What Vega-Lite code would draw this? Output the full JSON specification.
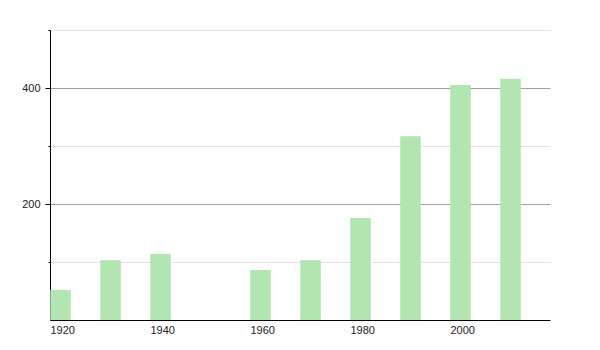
{
  "$schema": "https://vega.github.io/schema/vega-lite/v6.json",
  "width": 500,
  "height": 290,
  "autosize": {"type": "none"},
  "padding": {"left": 50, "top": 30, "right": 50, "bottom": 30},
  "background": "white",
  "config": {
    "view": {"stroke": null},
    "axis": {"labelFont": "Liberation Sans", "labelFontSize": 11, "labelColor": "#222222"}
  },
  "data": {
    "values": [
      {"year": 1920, "value": 52},
      {"year": 1930, "value": 103},
      {"year": 1940, "value": 114},
      {"year": 1960, "value": 86},
      {"year": 1970, "value": 103},
      {"year": 1980, "value": 176},
      {"year": 1990, "value": 317},
      {"year": 2000, "value": 405},
      {"year": 2010, "value": 416}
    ]
  },
  "mark": {"type": "bar", "width": 20.5, "xOffset": 10.5, "color": "#b3e5b1"},
  "encoding": {
    "x": {
      "field": "year",
      "type": "quantitative",
      "scale": {"domain": [1920, 2020], "nice": false, "zero": false, "padding": 0},
      "axis": {
        "title": null,
        "values": [1920, 1940, 1960, 1980, 2000],
        "format": "d",
        "labelAlign": "left",
        "labelDx": -1,
        "labelFlush": false,
        "ticks": false,
        "grid": false,
        "domainColor": "#000000",
        "labelPadding": 4
      }
    },
    "y": {
      "field": "value",
      "type": "quantitative",
      "scale": {"domain": [0, 500], "nice": false},
      "axis": {
        "title": null,
        "values": [100, 200, 300, 400, 500],
        "labelExpr": "datum.value == 200 || datum.value == 400 ? datum.label : ''",
        "domainColor": "#000000",
        "tickColor": "#000000",
        "tickSize": {"condition": {"test": "datum.value == 200 || datum.value == 400", "value": 5}, "value": 2},
        "labelPadding": 5,
        "grid": true,
        "gridColor": {"condition": {"test": "datum.value == 200 || datum.value == 400", "value": "#a0a0a0"}, "value": "#e4e4e4"},
        "gridWidth": 1
      }
    }
  }
}
